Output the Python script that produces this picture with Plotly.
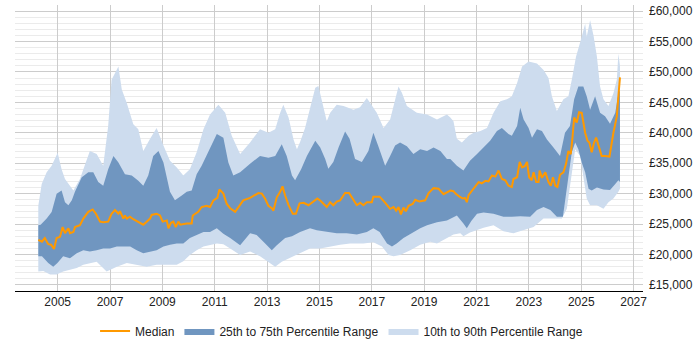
import plotly.graph_objects as go

# ---- Data (decimal years, £ values) ----
median_x = [2004.26, 2004.40, 2004.51, 2004.64, 2004.75, 2004.86, 2004.96, 2005.09, 2005.19, 2005.28,
            2005.41, 2005.47, 2005.60, 2005.66, 2005.85, 2005.98, 2006.17, 2006.34, 2006.46, 2006.62,
            2006.74, 2006.93, 2007.06, 2007.19, 2007.32, 2007.38, 2007.51, 2007.57, 2007.64, 2007.76,
            2007.89, 2008.15, 2008.27, 2008.40, 2008.53, 2008.59, 2008.78, 2008.91, 2009.01, 2009.17,
            2009.23, 2009.33, 2009.42, 2009.51, 2009.61, 2009.68, 2009.93, 2010.12, 2010.16, 2010.37,
            2010.50, 2010.69, 2010.82, 2010.95, 2011.10, 2011.18, 2011.33, 2011.46, 2011.59, 2011.78,
            2011.97, 2012.09, 2012.35, 2012.42, 2012.67, 2012.80, 2012.92, 2013.05, 2013.18, 2013.24,
            2013.37, 2013.50, 2013.59, 2013.69, 2013.82, 2013.98, 2014.10, 2014.24, 2014.40, 2014.58,
            2014.77, 2014.92, 2015.05, 2015.28, 2015.41, 2015.53, 2015.66, 2015.79, 2015.98, 2016.13,
            2016.28, 2016.43, 2016.56, 2016.68, 2016.81, 2017.00, 2017.06, 2017.30, 2017.49, 2017.70,
            2017.83, 2017.93, 2018.02, 2018.11, 2018.21, 2018.30, 2018.40, 2018.56, 2018.66, 2018.82,
            2019.04, 2019.17, 2019.36, 2019.55, 2019.74, 2019.93, 2020.00, 2020.12, 2020.20, 2020.35,
            2020.48, 2020.56, 2020.63, 2020.70, 2020.83, 2020.96, 2021.08, 2021.20, 2021.34, 2021.46,
            2021.59, 2021.72, 2021.84, 2021.97, 2022.10, 2022.22, 2022.35, 2022.41, 2022.55, 2022.65,
            2022.74, 2022.84, 2022.93, 2023.01, 2023.11, 2023.18, 2023.28, 2023.37, 2023.41, 2023.50,
            2023.63, 2023.75, 2023.84, 2023.92, 2024.01, 2024.09, 2024.19, 2024.32, 2024.42, 2024.51,
            2024.60, 2024.66, 2024.73, 2024.83, 2024.92, 2025.02, 2025.08, 2025.15, 2025.24, 2025.31,
            2025.40, 2025.49, 2025.57, 2025.66, 2025.78, 2025.91, 2026.08, 2026.23, 2026.36, 2026.42,
            2026.48]
median_y = [22400, 22100, 22700, 21700, 21600, 20900, 22700, 22900, 24500, 23500,
            24300, 23500, 23700, 24500, 24800, 25900, 27000, 27400, 26700, 25400,
            25300, 25400, 26700, 27300, 26700, 27100, 25900, 26400, 25900, 26200,
            25800, 25100, 24900, 25400, 25900, 26500, 26700, 26400, 25400, 25600,
            24300, 25200, 25400, 24500, 25400, 24900, 25100, 25100, 26400, 27000,
            27800, 28000, 27800, 28900, 29300, 30700, 30000, 28300, 27600, 27000,
            28100, 28900, 29300, 29500, 30100, 30000, 29200, 28000, 27600, 27200,
            29400, 30300, 31200, 29700, 28100, 26700, 26700, 28400, 28500, 28100,
            28700, 29200, 28800, 27800, 28600, 28100, 28700, 28900, 30100, 30100,
            29100, 28100, 28500, 28100, 28600, 28600, 29500, 29500, 28600, 27500,
            27800, 27200, 27800, 26600, 27700, 27100, 28000, 28300, 29000, 28700,
            28900, 30100, 30900, 30800, 29900, 30400, 30500, 30400, 30000, 29500,
            29200, 29300, 28600, 29800, 30500, 31100, 31900, 31700, 32100, 32000,
            33000, 32800, 33800, 32400, 32200, 31300, 31100, 32400, 32700, 35200,
            34300, 34500, 35200, 32700, 32200, 33500, 31900, 31900, 33800, 32600,
            33500, 31900, 31300, 32700, 31300, 31100, 33100, 33500, 34900, 37000,
            36500, 38900, 42500, 41700, 43400, 43300, 41700, 40000, 38700, 38400,
            36800, 38400, 39200, 37900, 36200, 36200, 36100, 40000, 42700, 46000,
            49100]

p75_x = [2004.26, 2004.35, 2004.58, 2004.77, 2004.96, 2005.15, 2005.28, 2005.41, 2005.54, 2005.66,
         2005.92, 2006.17, 2006.36, 2006.55, 2006.74, 2006.93, 2007.13, 2007.32, 2007.57, 2007.83,
         2008.08, 2008.27, 2008.46, 2008.65, 2008.85, 2009.04, 2009.29, 2009.48, 2009.74, 2009.93,
         2010.12, 2010.31, 2010.50, 2010.82, 2011.08, 2011.33, 2011.52, 2011.71, 2011.97, 2012.35,
         2012.73, 2013.05, 2013.31, 2013.56, 2013.75, 2013.95, 2014.07, 2014.30, 2014.52, 2014.84,
         2015.03, 2015.22, 2015.34, 2015.53, 2015.73, 2015.98, 2016.15, 2016.36, 2016.62, 2016.87,
         2017.06, 2017.25, 2017.51, 2017.70, 2017.89, 2018.08, 2018.34, 2018.59, 2018.85, 2019.11,
         2019.36, 2019.62, 2019.87, 2020.00, 2020.25, 2020.50, 2020.75, 2021.02, 2021.27, 2021.52,
         2021.78, 2021.97, 2022.22, 2022.35, 2022.55, 2022.67, 2022.80, 2022.99, 2023.12, 2023.31,
         2023.50, 2023.69, 2023.94, 2024.19, 2024.38, 2024.57, 2024.73, 2024.89, 2025.08, 2025.21,
         2025.34, 2025.53, 2025.72, 2025.91, 2026.10, 2026.30, 2026.42, 2026.48]
p75_y = [24800, 24900, 25900, 27000, 30000, 30500, 28600, 28100, 28900, 30300,
         32700, 33500, 33500, 31900, 31300, 34000, 36200, 35100, 33200, 33000,
         32100, 31300, 33000, 36200, 37000, 35100, 30300, 28900, 29700, 30300,
         30500, 33200, 34600, 37600, 39800, 39200, 35100, 33000, 33500, 34900,
         36200, 35900, 36200, 38100, 36200, 33000, 32200, 34000, 36200, 38700,
         37600, 35700, 34100, 35200, 37600, 40200, 39000, 35700, 35200, 37000,
         40000, 37800, 34600, 36200, 37900, 38400, 37800, 36500, 37300, 37000,
         37600, 37000, 35700, 35700, 34600, 33800, 35400, 36500, 37600, 38700,
         40300, 40800, 39800, 39500, 41100, 44100, 42200, 40800, 39200, 40600,
         40300, 38900, 37600, 36200, 40000, 41100, 45500, 47600, 47600, 46000,
         43800, 46000, 43300, 42700, 41500, 43300, 46500, 47000]

p25_x = [2004.26, 2004.40, 2004.64, 2004.83, 2004.99, 2005.21, 2005.47, 2005.73, 2005.98, 2006.23,
         2006.49, 2006.74, 2007.00, 2007.26, 2007.51, 2007.77, 2008.02, 2008.27, 2008.53, 2008.78,
         2009.04, 2009.29, 2009.55, 2009.80, 2010.05, 2010.31, 2010.57, 2010.82, 2011.08, 2011.33,
         2011.59, 2011.97, 2012.15, 2012.35, 2012.60, 2012.86, 2013.18, 2013.37, 2013.69, 2013.95,
         2014.26, 2014.64, 2014.90, 2015.28, 2015.66, 2016.04, 2016.43, 2016.81, 2017.06, 2017.30,
         2017.58, 2017.77, 2017.95, 2018.21, 2018.50, 2018.85, 2019.11, 2019.49, 2019.87, 2020.25,
         2020.50, 2020.63, 2020.80, 2021.02, 2021.27, 2021.65, 2022.03, 2022.35, 2022.67, 2023.05,
         2023.31, 2023.56, 2023.82, 2024.07, 2024.30, 2024.45, 2024.64, 2024.77, 2024.89, 2025.02,
         2025.15, 2025.28, 2025.40, 2025.60, 2025.85, 2026.10, 2026.30, 2026.42, 2026.48]
p25_y = [19700, 19700, 18600, 18000, 18600, 19700, 19400, 20200, 20700, 20500,
         20700, 21000, 21000, 21300, 21300, 21300, 20700, 20200, 20500, 20700,
         21300, 21600, 21800, 21800, 22700, 23200, 23700, 23700, 24300, 23400,
         22700, 21500, 22400, 23500, 23200, 22100, 20700, 21500, 22700, 23000,
         23700, 24300, 24000, 23700, 23500, 23500, 23300, 23700, 24300, 23700,
         21800, 21300, 21800, 22700, 23500, 24300, 24800, 25300, 25600, 26400,
         25100, 24300, 25500, 26700, 26900, 26700, 26200, 26200, 26300, 26200,
         27300, 27800, 27300, 26200, 26200, 30500, 36800, 38400, 37300, 35100,
         33500, 30800, 30500, 31000, 30700, 30600, 31600, 32200, 31900]

p90_x = [2004.26, 2004.39, 2004.58, 2004.77, 2005.00, 2005.15, 2005.28, 2005.60, 2005.85, 2006.23,
         2006.49, 2006.74, 2006.93, 2007.06, 2007.32, 2007.45, 2007.64, 2007.89, 2008.08, 2008.27,
         2008.53, 2008.78, 2009.04, 2009.29, 2009.55, 2009.80, 2010.05, 2010.31, 2010.57, 2010.82,
         2011.14, 2011.40, 2011.65, 2011.97, 2012.35, 2012.73, 2013.05, 2013.31, 2013.50, 2013.62,
         2013.82, 2014.01, 2014.14, 2014.26, 2014.45, 2014.64, 2014.84, 2014.96, 2015.15, 2015.28,
         2015.41, 2015.66, 2015.92, 2016.30, 2016.55, 2016.81, 2017.19, 2017.45, 2017.70, 2017.89,
         2018.02, 2018.15, 2018.34, 2018.72, 2019.11, 2019.49, 2019.87, 2020.00, 2020.12, 2020.25,
         2020.44, 2020.70, 2020.89, 2021.15, 2021.40, 2021.65, 2021.91, 2022.16, 2022.35, 2022.55,
         2022.74, 2022.99, 2023.31, 2023.56, 2023.75, 2023.88, 2024.07, 2024.32, 2024.51, 2024.64,
         2024.80, 2025.02, 2025.15, 2025.21, 2025.34, 2025.47, 2025.60, 2025.72, 2025.85, 2026.04,
         2026.23, 2026.36, 2026.42, 2026.48]
p90_y = [28000, 31600, 33500, 34600, 36700, 34000, 32400, 30500, 32400, 37000,
         36500, 34600, 41100, 48700, 50900, 47100, 44900, 41400, 40600, 37000,
         39000, 40800, 37900, 35400, 34300, 33000, 34000, 36800, 40600, 43000,
         44600, 43300, 39500, 36500, 38400, 40600, 40000, 40600, 43300, 44600,
         42500, 38900, 37300, 38500, 40800, 43800, 47400, 47700, 44400, 41900,
         43300, 44600, 44400, 43800, 44200, 45700, 43300, 40800, 42200, 45500,
         47600, 46600, 44400, 43300, 43000, 42200, 43000, 42500, 41900, 39000,
         38400, 39500, 40000, 40300, 40800, 43300, 45200, 45500, 46000, 48200,
         50900, 51700, 51400, 50300, 49000, 46000, 43600, 45500, 46000, 48700,
         52500, 55800, 57900, 55800, 58500, 56000, 52500, 47600, 45500, 44400,
         46500, 48700, 53000, 51000]

p10_x = [2004.26, 2004.45, 2004.71, 2004.96, 2005.21, 2005.47, 2005.73, 2005.98, 2006.23, 2006.49,
         2006.87, 2007.26, 2007.64, 2008.02, 2008.40, 2008.78, 2009.16, 2009.55, 2009.80, 2010.05,
         2010.31, 2010.57, 2010.82, 2011.08, 2011.33, 2011.59, 2011.97, 2012.35, 2012.73, 2013.12,
         2013.31, 2013.56, 2013.88, 2014.26, 2014.64, 2015.03, 2015.41, 2015.79, 2016.17, 2016.68,
         2017.06, 2017.39, 2017.64, 2017.83, 2018.08, 2018.47, 2018.85, 2019.23, 2019.49, 2019.87,
         2020.12, 2020.38, 2020.50, 2020.75, 2021.02, 2021.27, 2021.65, 2022.03, 2022.41, 2022.80,
         2023.18, 2023.56, 2023.94, 2024.26, 2024.45, 2024.64, 2024.77, 2024.96, 2025.08, 2025.21,
         2025.34, 2025.60, 2025.85, 2026.04, 2026.23, 2026.42, 2026.48]
p10_y = [17200, 17300, 16700, 16700, 17200, 17500, 17800, 18300, 18600, 18800,
         17200, 18000, 18600, 18300, 18000, 18300, 18300, 18300, 18900, 19900,
         20700, 21300, 21600, 21800, 21700, 21000, 19900, 20500, 19700, 18600,
         18000, 18800, 19400, 20200, 21000, 21000, 21300, 21600, 21800, 21800,
         22000, 21300, 19900, 19700, 19900, 20700, 21600, 22100, 21800, 22700,
         23300, 23500, 23000, 23600, 24000, 24400, 24800, 23800, 23500, 24000,
         24500, 25900, 25900, 25900, 27500, 33500, 37300, 36200, 33000, 29200,
         28100, 28100, 27500, 28600, 29200, 30300, 30800]

year_ticks = [2005, 2007, 2009, 2011, 2013, 2015, 2017, 2019, 2021, 2023, 2025, 2027]

DARK = "#7096c0"
LIGHT = "#cddcee"
ORANGE = "#ff9900"
FONT = "Liberation Sans, Arial, sans-serif"

fig = go.Figure()
fig.add_trace(go.Scatter(
    x=p90_x + p10_x[::-1], y=p90_y + p10_y[::-1],
    fill="toself", fillcolor=LIGHT, line=dict(width=0, color=LIGHT),
    mode="lines", name="10th to 90th Percentile Range", hoverinfo="skip"))
fig.add_trace(go.Scatter(
    x=p75_x + p25_x[::-1], y=p75_y + p25_y[::-1],
    fill="toself", fillcolor=DARK, line=dict(width=0, color=DARK),
    mode="lines", name="25th to 75th Percentile Range", hoverinfo="skip"))
fig.add_trace(go.Scatter(
    x=median_x, y=median_y, mode="lines", name="Median",
    line=dict(color=ORANGE, width=2)))

fig.update_layout(
    width=700, height=350,
    margin=dict(l=15, r=57, t=5, b=57),
    paper_bgcolor="white", plot_bgcolor="white",
    font=dict(family=FONT, size=12, color="#222222"),
    showlegend=True,
    legend=dict(orientation="h", x=0.52, xanchor="center", y=-0.14, yanchor="middle",
                traceorder="reversed", font=dict(size=12, color="#222222"),
                itemwidth=30),
    xaxis=dict(range=[2003.37, 2027.36], tickvals=year_ticks,
               ticktext=[str(t) for t in year_ticks],
               showgrid=True, gridcolor="#cccccc", gridwidth=1,
               showline=True, linecolor="#000000", linewidth=1,
               zeroline=False, ticks=""),
    yaxis=dict(range=[14000, 61000], side="right", dtick=5000, tick0=15000,
               tickprefix="£", tickformat=",d", ticklabelstandoff=5,
               showgrid=True, gridcolor="#cccccc", gridwidth=1,
               zeroline=False, showline=False, ticks="",
               minor=dict(dtick=1000, tick0=0, showgrid=True, gridcolor="#ebebeb", gridwidth=1)),
)

fig.write_html("out.html")
